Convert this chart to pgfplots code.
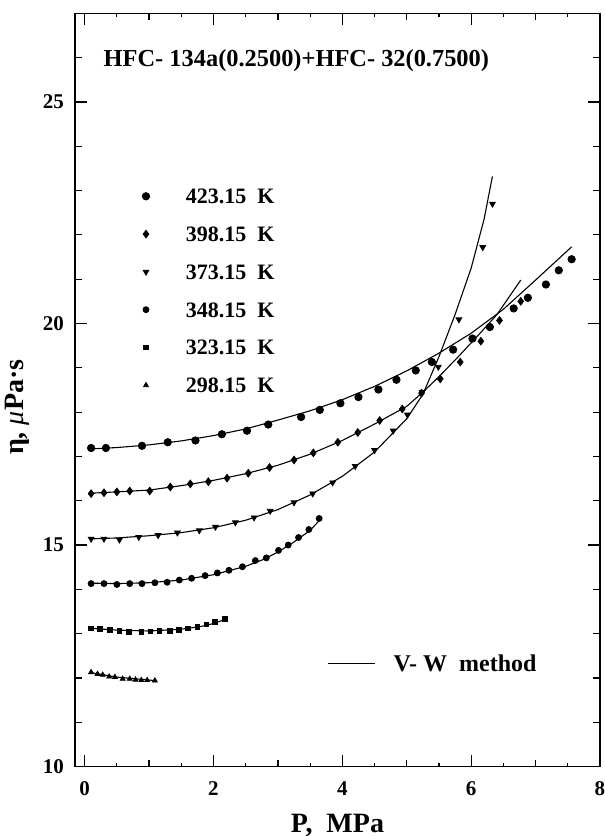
\documentclass[border=0pt]{standalone}
\usepackage{pgfplots}
\pgfplotsset{compat=1.18}
\usepackage{fontspec}
\setmainfont{Liberation Serif}

% measured data (P / MPa, eta / muPa s)
\pgfplotstableread{
x y
0.10 17.19
0.33 17.19
0.89 17.24
1.29 17.32
1.72 17.36
2.13 17.50
2.52 17.58
2.85 17.72
3.36 17.89
3.65 18.05
3.97 18.20
4.25 18.34
4.56 18.51
4.84 18.73
5.14 18.94
5.39 19.13
5.72 19.41
6.02 19.66
6.29 19.92
6.66 20.34
6.88 20.58
7.16 20.88
7.36 21.20
7.56 21.45
}\dataA
\pgfplotstableread{
x y
0.10 16.16
0.30 16.18
0.50 16.20
0.70 16.22
1.01 16.22
1.33 16.31
1.64 16.38
1.92 16.43
2.21 16.51
2.54 16.62
2.87 16.75
3.25 16.92
3.55 17.08
3.93 17.32
4.24 17.54
4.58 17.81
4.93 18.07
5.23 18.43
5.52 18.75
5.83 19.13
6.15 19.60
6.44 20.07
6.77 20.50
}\dataB
\pgfplotstableread{
x y
0.10 15.14
0.30 15.14
0.54 15.12
0.84 15.18
1.14 15.22
1.44 15.28
1.78 15.33
2.03 15.41
2.34 15.51
2.63 15.62
2.88 15.77
3.25 15.96
3.54 16.16
3.85 16.41
4.20 16.78
4.50 17.14
4.79 17.58
5.01 17.94
5.24 18.45
5.49 19.02
5.81 20.09
6.18 21.72
6.33 22.70
}\dataC
\pgfplotstableread{
x y
0.10 14.13
0.30 14.13
0.50 14.11
0.70 14.13
0.89 14.13
1.09 14.15
1.28 14.16
1.47 14.21
1.66 14.25
1.87 14.31
2.06 14.37
2.24 14.43
2.45 14.51
2.65 14.65
2.82 14.71
3.01 14.88
3.16 15.00
3.32 15.17
3.48 15.35
3.64 15.60
}\dataD
\pgfplotstableread{
x y
0.10 13.12
0.24 13.10
0.39 13.08
0.54 13.06
0.69 13.04
0.88 13.04
1.02 13.05
1.16 13.06
1.32 13.07
1.46 13.09
1.60 13.12
1.75 13.15
1.89 13.21
2.02 13.26
2.18 13.34
}\dataE
\pgfplotstableread{
x y
0.10 12.13
0.20 12.09
0.28 12.07
0.38 12.03
0.47 12.02
0.59 11.98
0.70 11.98
0.79 11.96
0.88 11.95
0.97 11.95
1.09 11.94
}\dataF

% V-W method curves
\pgfplotstableread{
x y
0.10 17.17
0.50 17.20
1.00 17.26
1.50 17.35
2.00 17.47
2.50 17.62
3.00 17.82
3.50 18.03
4.00 18.28
4.50 18.58
5.00 18.93
5.50 19.33
6.00 19.78
6.50 20.32
7.00 20.98
7.56 21.73
}\lineA
\pgfplotstableread{
x y
0.10 16.17
0.50 16.20
1.00 16.24
1.50 16.34
2.00 16.46
2.50 16.61
3.00 16.80
3.50 17.05
4.00 17.36
4.50 17.73
5.00 18.13
5.25 18.45
5.50 18.80
5.80 19.25
6.10 19.72
6.40 20.20
6.77 20.98
}\lineB
\pgfplotstableread{
x y
0.10 15.14
0.50 15.16
1.00 15.21
1.50 15.28
2.00 15.39
2.50 15.56
3.00 15.80
3.50 16.13
4.00 16.55
4.50 17.10
5.00 17.85
5.25 18.40
5.50 19.25
5.75 20.20
6.00 21.25
6.20 22.35
6.33 23.32
}\lineC
\pgfplotstableread{
x y
0.10 14.14
0.50 14.13
1.00 14.15
1.50 14.21
2.00 14.33
2.50 14.52
2.75 14.66
3.00 14.84
3.25 15.07
3.50 15.33
3.64 15.55
}\lineD
\pgfplotstableread{
x y
0.10 13.12
0.50 13.08
1.00 13.06
1.50 13.10
1.80 13.16
2.00 13.23
2.20 13.33
}\lineE
\pgfplotstableread{
x y
0.10 12.12
0.50 12.02
1.10 11.94
}\lineF

\begin{document}
\begin{tikzpicture}
\begin{axis}[
  width=262.5pt, height=376.65pt, scale only axis,
  xmin=-0.15, xmax=8, ymin=10, ymax=27,
  xtick={0,2,4,6,8}, minor xtick={1,3,5,7},
  extra x ticks={0.5,1.5,2.5,3.5,4.5,5.5,6.5,7.5},
  extra x tick labels={},
  extra x tick style={major tick length=1.8pt},
  ytick={10,15,20,25},
  minor ytick={11,12,13,14,16,17,18,19,21,22,23,24,26},
  tick align=inside,
  major tick length=6pt, minor tick length=3.3pt,
  axis line style={line width=0.7pt},
  every tick/.style={black, line width=0.6pt},
  /pgf/number format/assume math mode=true,
  tick label style={font=\bfseries\fontsize{10.5}{12}\selectfont},
  xticklabel style={yshift=-4pt},
  yticklabel style={xshift=-2pt},
  xlabel={\textbf{P,\ \ MPa}},
  xlabel style={at={(axis description cs:0.5,0)}, anchor=base, yshift=-33pt,
    font=\fontsize{14}{16}\selectfont},
  ylabel={\textbf{η,} \textit{μ}\textbf{Pa·s}},
  ylabel style={at={(axis description cs:-0.110,0.477)}, anchor=center,
    font=\fontsize{14}{16}\selectfont},
  legend cell align=left,
  legend image code/.code={%
    \path[draw=none, fill=none] (-6pt,-3.7pt) rectangle (6pt,3.7pt);
    \draw[#1] plot coordinates {(0pt,0pt)};},
  legend style={at={(axis cs:0.946,22.92)}, anchor=north west,
    xshift=-6pt, yshift=2.8pt, draw=none, fill=none, inner sep=0pt,
    nodes={inner sep=0pt, text height=7.4pt, text depth=0pt},
    row sep=11.5pt,
    /tikz/every odd column/.append style={column sep=14pt},
    font=\bfseries\fontsize{11}{13}\selectfont},
]
% V-W method lines
\addplot[black, line width=0.55pt, forget plot] table {\lineA};
\addplot[black, line width=0.55pt, forget plot] table {\lineB};
\addplot[black, line width=0.55pt, forget plot] table {\lineC};
\addplot[black, line width=0.55pt, forget plot] table {\lineD};
\addplot[black, line width=0.55pt, forget plot] table {\lineE};
\addplot[black, line width=0.55pt, forget plot] table {\lineF};
% measured points
\addplot[only marks, mark=*, mark size=1.85pt, black] table {\dataA};
\addlegendentry{423.15\ \ K}
\addplot[only marks, mark=diamond*, mark size=1.9pt, black] table {\dataB};
\addlegendentry{398.15\ \ K}
\addplot[only marks, mark=triangle*, mark size=1.65pt, black,
  every mark/.append style={rotate=180}] table {\dataC};
\addlegendentry{373.15\ \ K}
\addplot[only marks, mark=*, mark size=1.5pt, black] table {\dataD};
\addlegendentry{348.15\ \ K}
\addplot[only marks, mark=square*, mark size=1.2pt, black] table {\dataE};
\addlegendentry{323.15\ \ K}
\addplot[only marks, mark=triangle*, mark size=1.4pt, black] table {\dataF};
\addlegendentry{298.15\ \ K}
% annotations
\node[anchor=west, inner sep=0pt, font=\bfseries\fontsize{12.2}{14}\selectfont]
  at (axis cs:0.29,25.93) {HFC- 134a(0.2500)+HFC- 32(0.7500)};
\draw[black, line width=0.6pt] (axis cs:3.78,12.33) -- (axis cs:4.50,12.33);
\node[anchor=west, inner sep=0pt, font=\bfseries\fontsize{12}{14}\selectfont]
  at (axis cs:4.79,12.33) {V- W\ \ method};
\end{axis}
\pgfresetboundingbox
\path ([shift={(-37.5pt,-34.7pt)}]current axis.south west)
  rectangle ([shift={(2.5pt,6.65pt)}]current axis.north east);
\end{tikzpicture}
\end{document}
